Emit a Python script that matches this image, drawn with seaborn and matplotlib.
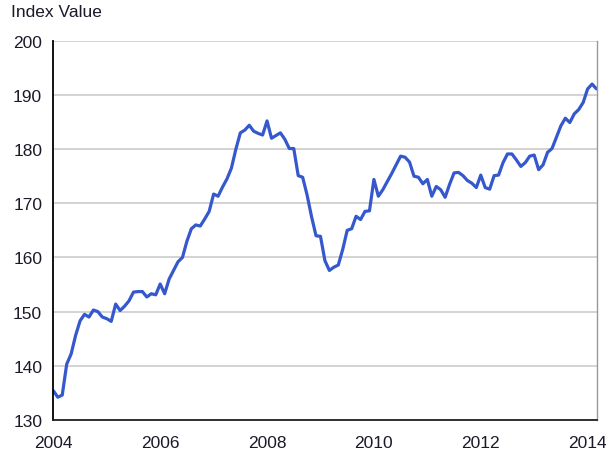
import matplotlib
matplotlib.use("Agg")
import matplotlib.pyplot as plt
import numpy as np
import pandas as pd
import seaborn as sns

# monthly index values, Jan 2004 onwards
index_values = [
    135.4, 134.2, 134.6, 140.3, 142.2, 145.6, 148.3, 149.5, 149.0, 150.3, 150.0, 149.0,
    148.7, 148.2, 151.4, 150.2, 151.0, 152.0, 153.6, 153.7, 153.7, 152.7, 153.3, 153.1,
    155.1, 153.3, 156.0, 157.6, 159.2, 160.0, 163.0, 165.3, 166.0, 165.8, 167.1, 168.5,
    171.7, 171.3, 173.0, 174.5, 176.5, 180.0, 183.0, 183.5, 184.4, 183.3, 182.9, 182.6,
    185.2, 182.0, 182.5, 183.0, 181.8, 180.1, 180.1, 175.1, 174.8, 171.5, 167.5, 164.0,
    163.9, 159.4, 157.6, 158.2, 158.6, 161.5, 165.0, 165.3, 167.6, 167.0, 168.5, 168.6,
    174.4, 171.3, 172.5, 174.0, 175.5, 177.1, 178.7, 178.5, 177.6, 175.0, 174.8, 173.6,
    174.4, 171.3, 173.1, 172.5, 171.1, 173.5, 175.6, 175.7, 175.1, 174.2, 173.7, 172.9,
    175.2, 172.9, 172.6, 175.1, 175.2, 177.5, 179.1, 179.1, 178.0, 176.8, 177.5, 178.7,
    178.9, 176.2, 177.1, 179.4, 180.1, 182.2, 184.3, 185.7, 184.9, 186.5, 187.3, 188.6,
    191.1, 192.0, 191.1,
]
start_year = 2004
years = [start_year + i / 12 for i in range(len(index_values))]

year_ticks = list(range(2004, 2015))
year_labels = [str(y) if y % 2 == 0 else "" for y in year_ticks]
value_ticks = list(range(130, 201, 10))

df = pd.DataFrame({"year": years, "value": index_values})

sns.set_style("white")
plt.rcParams["font.family"] = ["Liberation Sans", "DejaVu Sans"]

fig = plt.figure(figsize=(6.11, 4.60), dpi=100)
ax = fig.add_axes([0.0873, 0.0848, 0.8893, 0.8245])

sns.lineplot(data=df, x="year", y="value", ax=ax, color="#3558cc",
             linewidth=2.3, solid_joinstyle="round")

ax.set_xlim(2004, 2014.17)
ax.set_ylim(130, 200)
ax.set_xticks(year_ticks)
ax.set_xticklabels(year_labels)
ax.set_yticks(value_ticks)

ax.grid(axis="y", color="#d0d0d0", linewidth=1.3)
ax.set_axisbelow(True)

ax.spines["top"].set_visible(False)
ax.spines["left"].set_color("#000000")
ax.spines["left"].set_linewidth(1.3)
ax.spines["bottom"].set_color("#222222")
ax.spines["bottom"].set_linewidth(1.3)
ax.spines["right"].set_color("#999999")
ax.spines["right"].set_linewidth(1.0)

ax.tick_params(axis="x", direction="in", length=5, width=1.2, color="#222222",
               pad=11, labelsize=12.5, labelcolor="#1a1a2a")
ax.tick_params(axis="y", direction="out", length=4, width=1.2, color="#000000",
               pad=4, labelsize=12.5, labelcolor="#1a1a2a")

ax.set_xlabel("")
ax.set_ylabel("")
fig.text(0.018, 0.972, "Index Value", fontsize=12.5, color="#1a1a2a",
         ha="left", va="center")

fig.savefig("out.png", dpi=100)
